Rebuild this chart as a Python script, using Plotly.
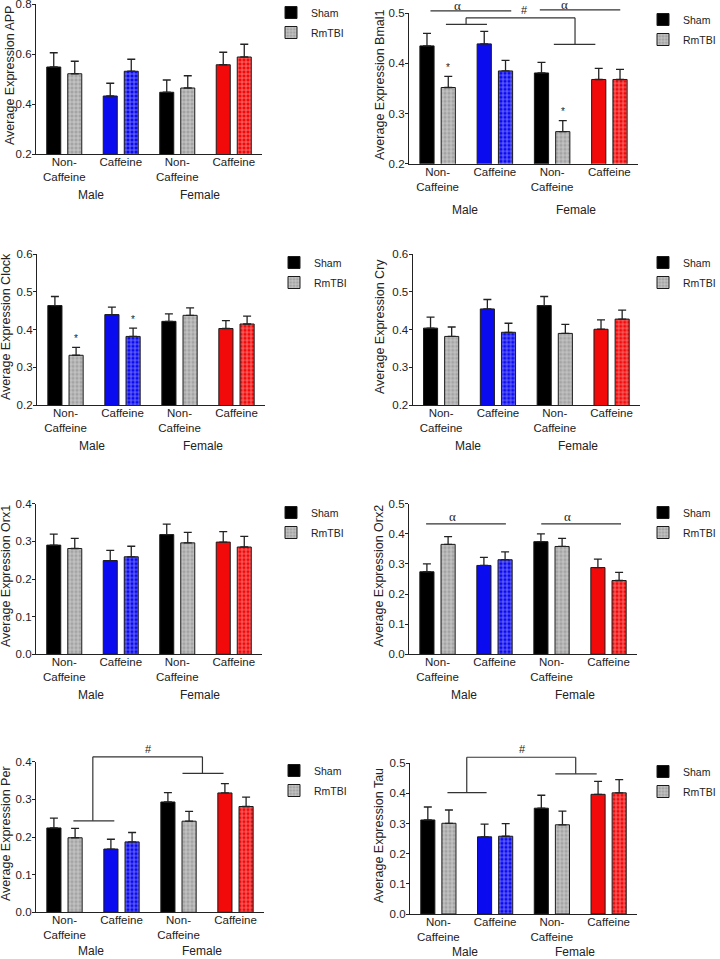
import numpy as np
import plotly.graph_objects as go

# ---------------- data ----------------
genes = ["APP", "Bmal1", "Clock", "Cry", "Orx1", "Orx2", "Per", "Tau"]
group_labels = ["Non-<br>Caffeine", "Caffeine", "Non-<br>Caffeine", "Caffeine"]
sex_labels = ["Male", "Female"]
series_names = ["Sham", "RmTBI"]

# order: Male Non-Caffeine, Male Caffeine, Female Non-Caffeine, Female Caffeine
app_sham = [0.548, 0.432, 0.447, 0.557]
app_sham_sem = [0.057, 0.051, 0.049, 0.050]
app_rmtbi = [0.521, 0.531, 0.464, 0.588]
app_rmtbi_sem = [0.050, 0.048, 0.049, 0.051]

bmal1_sham = [0.435, 0.439, 0.381, 0.368]
bmal1_sham_sem = [0.025, 0.025, 0.021, 0.022]
bmal1_rmtbi = [0.352, 0.385, 0.264, 0.368]
bmal1_rmtbi_sem = [0.022, 0.021, 0.022, 0.020]

clock_sham = [0.464, 0.440, 0.422, 0.403]
clock_sham_sem = [0.024, 0.020, 0.020, 0.021]
clock_rmtbi = [0.332, 0.382, 0.438, 0.415]
clock_rmtbi_sem = [0.021, 0.022, 0.020, 0.021]

cry_sham = [0.404, 0.455, 0.464, 0.401]
cry_sham_sem = [0.029, 0.025, 0.024, 0.025]
cry_rmtbi = [0.382, 0.393, 0.390, 0.428]
cry_rmtbi_sem = [0.025, 0.024, 0.024, 0.024]

orx1_sham = [0.290, 0.249, 0.318, 0.298]
orx1_sham_sem = [0.029, 0.027, 0.028, 0.028]
orx1_rmtbi = [0.281, 0.259, 0.296, 0.285]
orx1_rmtbi_sem = [0.027, 0.028, 0.028, 0.028]

orx2_sham = [0.274, 0.295, 0.374, 0.288]
orx2_sham_sem = [0.026, 0.027, 0.026, 0.028]
orx2_rmtbi = [0.365, 0.314, 0.358, 0.245]
orx2_rmtbi_sem = [0.026, 0.026, 0.027, 0.027]

per_sham = [0.224, 0.168, 0.293, 0.317]
per_sham_sem = [0.026, 0.026, 0.025, 0.025]
per_rmtbi = [0.198, 0.187, 0.242, 0.281]
per_rmtbi_sem = [0.025, 0.025, 0.026, 0.025]

tau_sham = [0.312, 0.256, 0.351, 0.397]
tau_sham_sem = [0.043, 0.042, 0.043, 0.043]
tau_rmtbi = [0.301, 0.258, 0.296, 0.402]
tau_rmtbi_sem = [0.044, 0.042, 0.045, 0.044]

y_ranges = [[0.2, 0.8], [0.2, 0.5], [0.2, 0.6], [0.2, 0.6],
            [0.0, 0.4], [0.0, 0.5], [0.0, 0.4], [0.0, 0.5]]
y_dticks = [0.2, 0.1, 0.1, 0.1, 0.1, 0.1, 0.1, 0.1]

sham_colors = ["#000000", "#0b0bf0", "#000000", "#f20a0a"]
rmtbi_colors = ["#a4a4a4", "#0b0bf0", "#a4a4a4", "#f20a0a"]

panel_values = [
    (app_sham, app_sham_sem, app_rmtbi, app_rmtbi_sem),
    (bmal1_sham, bmal1_sham_sem, bmal1_rmtbi, bmal1_rmtbi_sem),
    (clock_sham, clock_sham_sem, clock_rmtbi, clock_rmtbi_sem),
    (cry_sham, cry_sham_sem, cry_rmtbi, cry_rmtbi_sem),
    (orx1_sham, orx1_sham_sem, orx1_rmtbi, orx1_rmtbi_sem),
    (orx2_sham, orx2_sham_sem, orx2_rmtbi, orx2_rmtbi_sem),
    (per_sham, per_sham_sem, per_rmtbi, per_rmtbi_sem),
    (tau_sham, tau_sham_sem, tau_rmtbi, tau_rmtbi_sem),
]

# ---------------- layout geometry (pixels) ----------------
W, H = 720, 959
# left, right, top, bottom of each plot area
boxes = [(36, 262, 4, 154), (409, 638, 13.3, 163.7),
         (37, 265, 254.3, 405), (412.7, 640, 254.3, 405),
         (36, 262, 503.7, 654.3), (409, 637, 503.7, 654.3),
         (36, 264, 761.7, 912.3), (410, 637, 763.3, 914)]
# legend symbol centre (x, y of first entry)
legend_pos = [(291, 13), (663, 20), (294, 263), (663, 263),
              (291, 513), (663, 513), (294, 771), (663, 772)]
# y-axis title centre (x, y)
ytitle_pos = [(10, 76), (380, 85), (6, 327), (380, 327),
              (6, 576), (379, 576), (6, 834), (379, 836)]
# vertical offset (px) of the Male / Female labels below each x axis
sex_shift = [-41, -46, -41, -41, -41, -41, -39, -38]

XR = [-0.5, 3.5]
pos = np.arange(len(group_labels))
OFF, BW = 0.186, 0.248
FONT = "Liberation Sans, Arial, sans-serif"
SERIF = "Liberation Serif, Times New Roman, serif"
INK = "#222222"

fig = go.Figure()
layout = {}
shapes = []
annotations = []


def sfx(i):
    return "" if i == 0 else str(i + 1)


for i, gene in enumerate(genes):
    s = sfx(i)
    sham, sham_sem, rm, rm_sem = panel_values[i]
    leg = "legend" + s
    err_style = dict(type="data", symmetric=False, color=INK, thickness=1.3, width=4)
    fig.add_trace(go.Bar(
        x=pos - OFF, y=sham, width=BW, name=series_names[0],
        marker=dict(color=sham_colors, line=dict(color="#1a1a1a", width=1)),
        error_y=dict(array=sham_sem, arrayminus=[0] * len(sham), **err_style),
        xaxis="x" + s, yaxis="y" + s, legend=leg, legendgroup="sham",
    ))
    # RmTBI: one trace per fill colour so that the hatch keeps colour + white grid
    first = True
    for col in dict.fromkeys(rmtbi_colors):
        idx = [k for k, c in enumerate(rmtbi_colors) if c == col]
        fig.add_trace(go.Bar(
            x=pos[idx] + OFF, y=[rm[k] for k in idx], width=BW, name=series_names[1],
            marker=dict(color=col, line=dict(color="#1a1a1a", width=1),
                        pattern=dict(shape="+", bgcolor=col, fgcolor="white",
                                     size=4, solidity=0.35)),
            error_y=dict(array=[rm_sem[k] for k in idx], arrayminus=[0] * len(idx),
                         **err_style),
            xaxis="x" + s, yaxis="y" + s, legend=leg, legendgroup="rmtbi",
            showlegend=first,
        ))
        first = False
    l, r, t, b = boxes[i]
    layout["xaxis" + s] = dict(
        domain=[l / W, r / W], range=XR, anchor="y" + s, automargin=False,
        showline=True, linecolor=INK, linewidth=1.3, ticks="",
        tickvals=list(pos), ticktext=group_labels, ticklabeloverflow="allow",
        ticklabelstandoff=-3,
        tickfont=dict(size=11.5, color=INK, family=FONT),
        showgrid=False, zeroline=False)
    layout["yaxis" + s] = dict(
        domain=[1 - b / H, 1 - t / H], range=y_ranges[i], anchor="x" + s,
        automargin=False, ticklabeloverflow="allow", ticklabelstandoff=-2,
        showline=True, linecolor=INK, linewidth=1.3, ticks="outside",
        ticklen=3, tickwidth=1.2, tickcolor=INK, dtick=y_dticks[i],
        tickformat=".1f", tickfont=dict(size=11.5, color=INK, family=FONT),
        showgrid=False, zeroline=False)
    # y-axis title as rotated text
    tx, ty = ytitle_pos[i]
    annotations.append(dict(
        text="Average Expression " + gene, x=tx / W, y=1 - ty / H,
        xref="paper", yref="paper", textangle=-90, showarrow=False,
        xanchor="center", yanchor="middle",
        font=dict(size=12.5, color=INK, family=FONT)))
    lx, ly = legend_pos[i]
    layout[leg] = dict(x=(lx - 20) / W, y=1 - (ly - 15) / H,
                       xanchor="left", yanchor="top",
                       bgcolor="rgba(0,0,0,0)", tracegroupgap=1,
                       font=dict(size=10.5, color=INK, family=FONT))
    # Male / Female labels
    for k, sx in enumerate(sex_labels):
        annotations.append(dict(
            text=sx, x=[0.47, 2.41][k], y=0, xref="x" + s, yref="y" + s + " domain",
            yanchor="middle", yshift=sex_shift[i], showarrow=False,
            font=dict(size=12, color=INK, family=FONT)))


def fx(x):
    return (x - XR[0]) / (XR[1] - XR[0])


def fy(i, y):
    yr = y_ranges[i]
    return (y - yr[0]) / (yr[1] - yr[0])


def add_line(i, x0, x1, y0, y1):
    s = sfx(i)
    shapes.append(dict(
        type="line", xref="x" + s + " domain", yref="y" + s + " domain",
        x0=fx(x0), x1=fx(x1), y0=fy(i, y0), y1=fy(i, y1),
        line=dict(color="#333333", width=1.2)))


def add_text(i, txt, x, y, size=11, serif=False):
    s = sfx(i)
    annotations.append(dict(
        text=txt, x=fx(x), y=fy(i, y), xref="x" + s + " domain",
        yref="y" + s + " domain", showarrow=False,
        xanchor="center", yanchor="middle",
        font=dict(size=size, color=INK, family=SERIF if serif else FONT)))


def bracket(i, xl, xr, ytop, yl, yr_, lspan, rspan):
    add_line(i, xl, xr, ytop, ytop)
    add_line(i, xl, xl, ytop, yl)
    add_line(i, xr, xr, ytop, yr_)
    add_line(i, lspan[0], lspan[1], yl, yl)
    add_line(i, rspan[0], rspan[1], yr_, yr_)


# Bmal1 (panel index 1)
add_line(1, -0.125, 1.286, 0.505, 0.505)
add_text(1, "α", 0.34, 0.516, 13, serif=True)
add_line(1, 1.785, 3.19, 0.507, 0.507)
add_text(1, "α", 2.22, 0.518, 13, serif=True)
add_text(1, "#", 1.52, 0.507, 11)
bracket(1, 0.497, 2.40, 0.491, 0.478, 0.438, (0.145, 0.862), (2.03, 2.755))
add_text(1, "*", 0 + OFF, 0.392, 10)
add_text(1, "*", 2 + OFF, 0.305, 10)

# Clock (panel index 2)
add_text(2, "*", 0 + OFF, 0.377, 10)
add_text(2, "*", 1 + OFF, 0.428, 10)

# Orx2 (panel index 5)
add_line(5, -0.2, 1.2, 0.433, 0.433)
add_text(5, "α", 0.27, 0.456, 13, serif=True)
add_line(5, 1.82, 3.22, 0.433, 0.433)
add_text(5, "α", 2.28, 0.456, 13, serif=True)

# Per (panel index 6)
bracket(6, 0.497, 2.42, 0.413, 0.243, 0.369, (0.156, 0.874), (2.07, 2.79))
add_text(6, "#", 1.48, 0.433, 11)

# Tau (panel index 7)
bracket(7, 0.50, 2.42, 0.520, 0.403, 0.465, (0.16, 0.85), (2.06, 2.79))
add_text(7, "#", 1.48, 0.546, 11)

fig.update_layout(
    width=W, height=H, margin=dict(l=0, r=0, t=0, b=0, autoexpand=False),
    paper_bgcolor="white", plot_bgcolor="white",
    barmode="overlay", showlegend=True,
    font=dict(family=FONT, color=INK),
    shapes=shapes, annotations=annotations, **layout)

# remove the browser's default 8px page margin so the figure sits at (0, 0)
fig.write_html("out.html", config={"displayModeBar": False},
               post_script="document.body.style.margin='0px';document.body.style.overflow='hidden';")
